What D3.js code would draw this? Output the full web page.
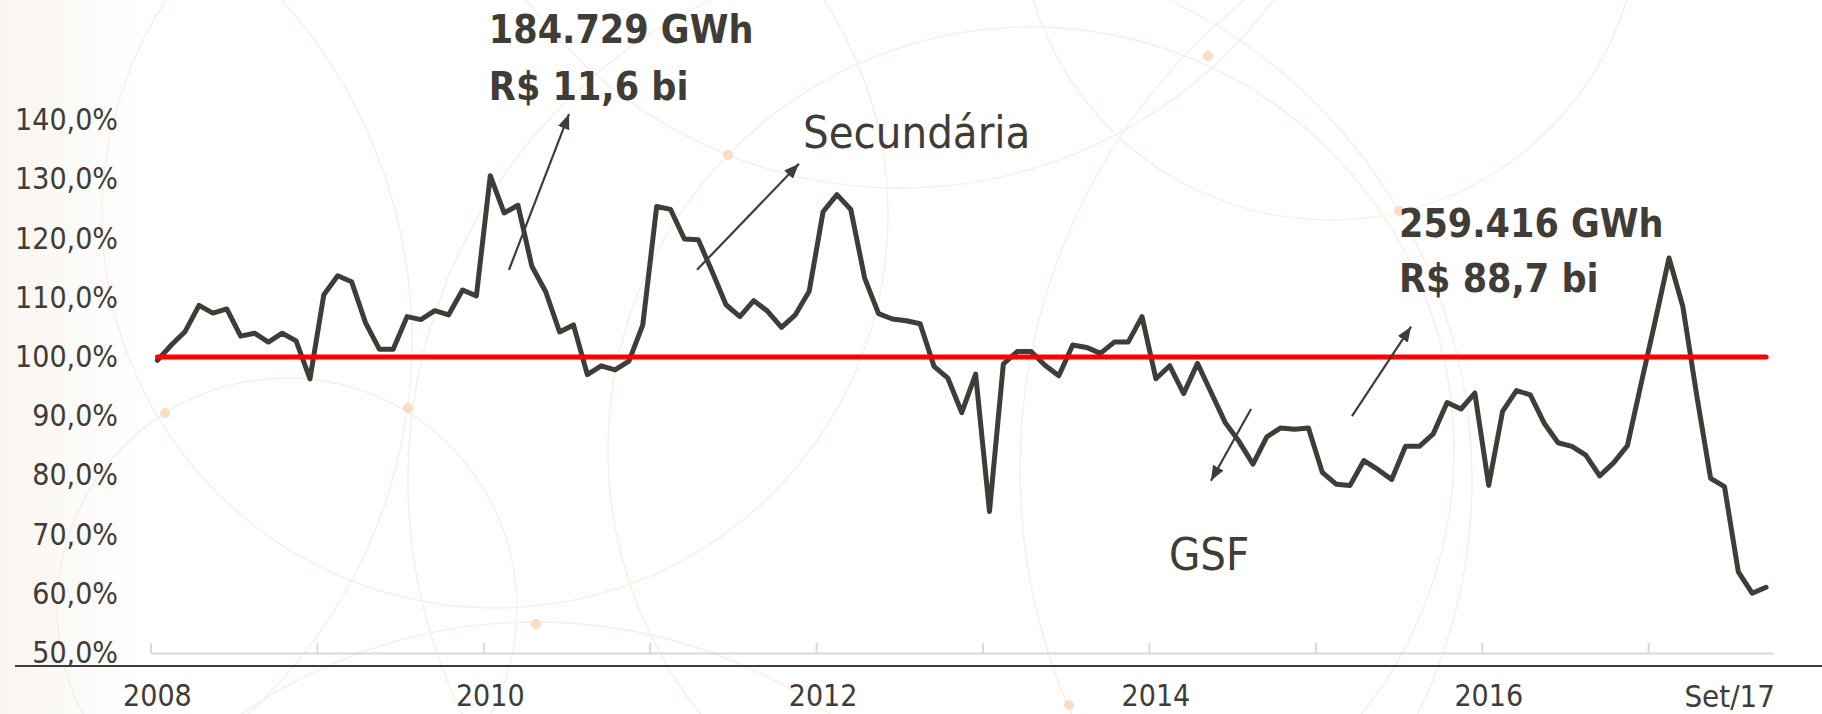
<!DOCTYPE html>
<html>
<head>
<meta charset="utf-8">
<script src="https://cdn.jsdelivr.net/npm/d3@7"></script>
<style>
  html, body { margin: 0; padding: 0; background: #ffffff; }
  svg { display: block; }
  text { font-family: "DejaVu Sans Condensed", "DejaVu Sans", sans-serif; }
</style>
</head>
<body>
<svg id="chart" width="1822" height="714"></svg>
<script>
// Monthly categories, Jan/2008 .. Sep/2017
const months = d3.timeMonth.range(new Date(2008, 0, 1), new Date(2017, 9, 1))
  .map(d3.timeFormat("%Y-%m"));

// GSF (% of physical guarantee), one value per month
const gsf = [
  99.4, 102.0, 104.3, 108.7, 107.4, 108.1, 103.5, 104.0, 102.5, 104.0, 102.7, 96.3,
  110.5, 113.7, 112.7, 105.8, 101.3, 101.3, 106.8, 106.3, 107.8, 107.1, 111.3, 110.3,
  130.6, 124.3, 125.6, 115.3, 111.0, 104.2, 105.4, 97.0, 98.5, 97.8, 99.3, 105.4,
  125.4, 124.9, 119.9, 119.8, 114.4, 108.8, 106.8, 109.5, 107.7, 105.0, 107.1, 111.1,
  124.5, 127.4, 124.9, 113.3, 107.3, 106.4, 106.1, 105.6, 98.4, 96.4, 90.6, 97.1,
  73.9, 98.8, 100.9, 100.9, 98.6, 96.8, 102.0, 101.6, 100.6, 102.5, 102.5, 106.8,
  96.3, 98.5, 93.8, 98.9, 93.9, 88.9, 85.7, 81.9, 86.5, 88.0, 87.8, 88.0,
  80.5, 78.5, 78.3, 82.5, 81.0, 79.3, 84.9, 84.9, 87.0, 92.3, 91.2, 93.9,
  78.3, 90.8, 94.3, 93.6, 88.8, 85.5, 84.9, 83.4, 79.9, 82.1, 85.0, 95.6,
  106.0, 116.7, 108.5, 93.5, 79.5, 78.1, 63.7, 60.1, 61.1
];

// Reference level (100% of physical guarantee)
const referenceLevel = 100;

// Axis ticks and labels
const yTicks = [50, 60, 70, 80, 90, 100, 110, 120, 130, 140];
const xLabelMonths = ["2008-01", "2010-01", "2012-01", "2014-01", "2016-01", "2017-09"];
const xLabelTexts = ["2008", "2010", "2012", "2014", "2016", "Set/17"];
const yearStartIdx = [0, 12, 24, 36, 48, 60, 72, 84, 96, 108];

// Annotations (position in month index / percent)
const notes = [
  { text: "184.729 GWh", pos: 24.4, v: 153.0, bold: true },
  { text: "R$ 11,6 bi", pos: 24.4, v: 143.4, bold: true },
  { text: "Secundária", pos: 47.05, v: 135.3, bold: false },
  { text: "GSF", pos: 73.44, v: 64.0, bold: false },
  { text: "259.416 GWh", pos: 90.03, v: 120.3, bold: true },
  { text: "R$ 88,7 bi", pos: 90.03, v: 111.0, bold: true }
];
const arrows = [
  { from: [25.85, 114.7], to: [30.18, 141.0] },
  { from: [39.41, 114.7], to: [46.76, 132.6] },
  { from: [79.36, 91.2], to: [76.47, 79.1] },
  { from: [86.64, 90.0], to: [90.90, 105.1] }
];

// Decorative background rings and nodes
const rings = [
  [1330, -90, 310], [287, 608, 230], [495, 215, 393], [-97, 340, 509],
  [1031, 450, 423], [900, -277, 465], [940, 480, 532], [1624, 470, 604],
  [536, 1139, 517]
];
const nodes = [[1208, 56], [728, 155], [1399, 211], [165, 413], [408, 408], [536, 624], [1069, 705]];

const ink = "#403c38";
const svg = d3.select("#chart");

// background
const defs = svg.append("defs");
const bg = defs.append("linearGradient").attr("id", "bgGrad").attr("x1", "0").attr("x2", "1");
bg.append("stop").attr("offset", "0").attr("stop-color", "#f9f5f0");
bg.append("stop").attr("offset", "0.08").attr("stop-color", "#ffffff");
bg.append("stop").attr("offset", "1").attr("stop-color", "#ffffff");
svg.append("rect").attr("width", 1822).attr("height", 714).attr("fill", "url(#bgGrad)");

const deco = svg.append("g");
deco.selectAll("circle.ring").data(rings).join("circle")
  .attr("class", "ring")
  .attr("cx", d => d[0]).attr("cy", d => d[1]).attr("r", d => d[2])
  .attr("fill", "none").attr("stroke", "#f7eee5").attr("stroke-width", 1.3);
deco.selectAll("circle.node").data(nodes).join("circle")
  .attr("class", "node")
  .attr("cx", d => d[0]).attr("cy", d => d[1]).attr("r", 5)
  .attr("fill", "#fcdcc2");

// scales
const x = d3.scaleBand().domain(months).range([150.5, 1773]).padding(0);
const xIdx = d3.scaleLinear().domain([0, months.length]).range([150.5, 1773]);
const y = d3.scaleLinear().domain([50, 140]).range([653, 120]);
const cx = m => x(m) + x.bandwidth() / 2;

// bottom separator rule
svg.append("line")
  .attr("x1", 15).attr("x2", 1822).attr("y1", 666).attr("y2", 666)
  .attr("stroke", "#3c3c3c").attr("stroke-width", 2);

// category axis with yearly ticks
const xAxisG = svg.append("g")
  .attr("transform", `translate(0,${y(50)})`)
  .call(d3.axisTop(xIdx).tickValues(yearStartIdx).tickSize(10).tickSizeOuter(0).tickFormat(""));
xAxisG.selectAll("path, line").attr("stroke", "#d9d9d9").attr("stroke-width", 2);

// x labels
const xLab = svg.append("g")
  .attr("transform", "translate(0,685)")
  .call(d3.axisBottom(x).tickValues(xLabelMonths).tickSize(0).tickPadding(0)
    .tickFormat(d => xLabelTexts[xLabelMonths.indexOf(d)]));
xLab.select(".domain").remove();
xLab.selectAll("text").attr("font-size", 30).attr("fill", ink)
  .style("font-family", "'DejaVu Sans Condensed','DejaVu Sans',sans-serif");
xLab.selectAll(".tick").filter(d => d === "2017-09").select("text")
  .attr("text-anchor", "end").attr("dx", 9).attr("font-size", 31);

// y labels
const yAx = svg.append("g")
  .attr("transform", "translate(118,0)")
  .call(d3.axisLeft(y).tickValues(yTicks).tickSize(0).tickPadding(0)
    .tickFormat(d => d3.format(".1f")(d).replace(".", ",") + "%"));
yAx.select(".domain").remove();
yAx.selectAll("text").attr("font-size", 30).attr("fill", ink)
  .style("font-family", "'DejaVu Sans Condensed','DejaVu Sans',sans-serif");

// GSF series
const line = d3.line().x((d, i) => cx(months[i])).y(d => y(d));
svg.append("path")
  .datum(gsf)
  .attr("d", line)
  .attr("fill", "none").attr("stroke", ink).attr("stroke-width", 5)
  .attr("stroke-linejoin", "round").attr("stroke-linecap", "round");

// 100% reference
svg.append("path")
  .datum(months.map(() => referenceLevel))
  .attr("d", line)
  .attr("fill", "none").attr("stroke", "#ff0000").attr("stroke-width", 5)
  .attr("stroke-linecap", "round");

// arrows
defs.append("marker")
  .attr("id", "head").attr("markerUnits", "userSpaceOnUse")
  .attr("markerWidth", 16).attr("markerHeight", 14)
  .attr("refX", 15).attr("refY", 7).attr("orient", "auto")
  .append("path").attr("d", "M0,1 L15,7 L0,13 Z").attr("fill", ink);

svg.append("g").selectAll("line").data(arrows).join("line")
  .attr("x1", d => xIdx(d.from[0])).attr("y1", d => y(d.from[1]))
  .attr("x2", d => xIdx(d.to[0])).attr("y2", d => y(d.to[1]))
  .attr("stroke", ink).attr("stroke-width", 2.2)
  .attr("marker-end", "url(#head)");

// annotation text
svg.append("g").selectAll("text").data(notes).join("text")
  .attr("x", d => xIdx(d.pos)).attr("y", d => y(d.v))
  .attr("font-size", d => d.bold ? 39 : 45)
  .attr("font-weight", d => d.bold ? "bold" : "normal")
  .attr("fill", ink)
  .text(d => d.text);
</script>
</body>
</html>
